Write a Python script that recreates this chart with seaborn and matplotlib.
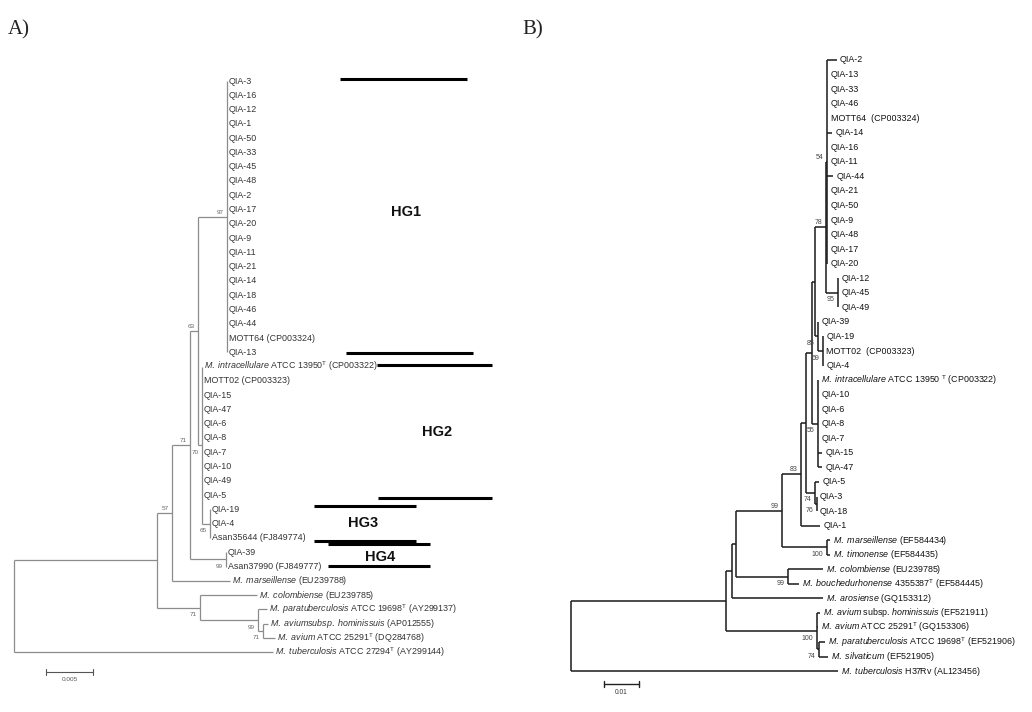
import matplotlib
matplotlib.use("Agg")
import matplotlib.pyplot as plt
import seaborn as sns
import pandas as pd

# ---------------- DATA ----------------
# Panel A tree (branch lengths = substitutions/site); internal labels = bootstrap (^ above, _ below)
A_NEWICK = (
    "((((((QIA-3:0,QIA-16:0,QIA-12:0,QIA-1:0,QIA-50:0,QIA-33:0,QIA-45:0,QIA-48:0,QIA-2:0,"
    "QIA-17:0,QIA-20:0,QIA-9:0,QIA-11:0,QIA-21:0,QIA-14:0,QIA-18:0,QIA-46:0,QIA-44:0,"
    "MOTT64:0,QIA-13:0)97^:0.00309,"
    "(Mint:0,MOTT02:0,QIA-15:0,QIA-47:0,QIA-6:0,QIA-8:0,QIA-7:0,QIA-10:0,QIA-49:0,QIA-5:0,"
    "(QIA-19:0,QIA-4:0,Asan35644:0)65_:0.00085)70_:0.00043)63^:0.00085,"
    "(QIA-39:0,Asan37990:0)99_:0.00383)71^:0.00191,"
    "Mmar:0.00617)57^:0.0016,"
    "(Mcol:0.00606,(Mpara:0.00096,(Mhom:0.00053,Mav:0.00128)71_:0.00053)99_:0.00617)71_:0.00457)"
    ":0.01521,Mtb:0.02755);"
)
A_LABELS = {
    "MOTT64": "MOTT64 (CP003324)",
    "Mint": r"$\mathit{M.\ intracellulare}$ ATCC 13950$^{\mathrm{T}}$ (CP003322)",
    "MOTT02": "MOTT02 (CP003323)",
    "Asan35644": "Asan35644 (FJ849774)",
    "Asan37990": "Asan37990 (FJ849777)",
    "Mmar": r"$\mathit{M.\ marseillense}$ (EU239788)",
    "Mcol": r"$\mathit{M.\ colombiense}$ (EU239785)",
    "Mpara": r"$\mathit{M.\ paratuberculosis}$ ATCC 19698$^{\mathrm{T}}$ (AY299137)",
    "Mhom": r"$\mathit{M.\ avium subsp.\ hominissuis}$ (AP012555)",
    "Mav": r"$\mathit{M.\ avium}$ ATCC 25291$^{\mathrm{T}}$ (DQ284768)",
    "Mtb": r"$\mathit{M.\ tuberculosis}$ ATCC 27294$^{\mathrm{T}}$ (AY299144)",
}
# haplogroup marker bars in panel A (distance units, row units)
A_BAR_X0 = [0.03468, 0.03532, 0.03862, 0.03872, 0.03191, 0.03191, 0.03340, 0.03340]
A_BAR_X1 = [0.04819, 0.04883, 0.05085, 0.05085, 0.04277, 0.04277, 0.04426, 0.04426]
A_BAR_ROW = [-0.14, 19.05, 19.89, 29.20, 29.73, 32.18, 32.39, 33.96]
A_HG_NAMES = ["HG1", "HG2", "HG3", "HG4"]
A_HG_X = [0.04170, 0.04497, 0.03718, 0.03894]
A_HG_ROW = [9.17, 24.58, 30.95, 33.33]
A_SCALE = 0.005

# Panel B tree
B_NEWICK = (
    "(((((((((((QIA-2:0.00269,QIA-13:0,QIA-33:0,QIA-46:0,MOTT64:0,QIA-14:0.00134,QIA-16:0,"
    "QIA-11:0,QIA-44:0.00163,QIA-21:0,QIA-50:0,QIA-9:0,QIA-48:0,QIA-17:0,QIA-20:0)54^:0.00046,"
    "(QIA-12:0,QIA-45:0,QIA-49:0)95_:0.0036)78^:0.00306,"
    "(QIA-39:0,(QIA-19:0,MOTT02:0,QIA-4:0)69_:0.00134)85_:0.00094):0.00094,"
    "(Mint:0,QIA-10:0,QIA-6:0,QIA-8:0,QIA-7:0,QIA-15:0.00114,QIA-47:0.00114)55_:0.0018):0.00163,"
    "(QIA-5:0.00114,(QIA-3:0,QIA-18:0)76_:0.00049)74_:0.00257):0.00143,"
    "QIA-1:0.00543)83^:0.00551,"
    "(Mmar:0.00094,Mtim:0.00094)100_:0.01286)99^:0.01314,"
    "(Mcol:0.01,Mbou:0.00314)99_:0.01494):0.00106,"
    "Maro:0.026):0.00171,"
    "(Mhom:0.00086,Mav:0.0003,(Mpara:0.00171,Msil:0.00257)74_:0.00057)100_:0.026):0.04429,"
    "Mtb:0.07629);"
)
B_LABELS = {
    "MOTT64": "MOTT64  (CP003324)",
    "MOTT02": "MOTT02  (CP003323)",
    "Mint": r"$\mathit{M.\ intracellulare}$ ATCC 13950 $^{\mathrm{T}}$ (CP003322)",
    "Mmar": r"$\mathit{M.\ marseillense}$ (EF584434)",
    "Mtim": r"$\mathit{M.\ timonense}$ (EF584435)",
    "Mcol": r"$\mathit{M.\ colombiense}$ (EU239785)",
    "Mbou": r"$\mathit{M.\ bouchedurhonense}$ 4355387$^{\mathrm{T}}$ (EF584445)",
    "Maro": r"$\mathit{M.\ arosiense}$ (GQ153312)",
    "Mhom": r"$\mathit{M.\ avium}$ subsp. $\mathit{hominissuis}$ (EF521911)",
    "Mav": r"$\mathit{M.\ avium}$ ATCC 25291$^{\mathrm{T}}$ (GQ153306)",
    "Mpara": r"$\mathit{M.\ paratuberculosis}$ ATCC 19698$^{\mathrm{T}}$ (EF521906)",
    "Msil": r"$\mathit{M.\ silvaticum}$ (EF521905)",
    "Mtb": r"$\mathit{M.\ tuberculosis}$ H37Rv (AL123456)",
}
B_SCALE = 0.01

# ---------------- LAYOUT ----------------
W_PX, H_PX = 1032, 712
A_ROOT_PX, A_PPU, A_ROW0, A_ROWH = 14, 9400.0, 81.0, 14.28
B_ROOT_PX, B_PPU, B_ROW0, B_ROWH = 571, 3500.0, 60.0, 14.55
A_SCALE_X, A_SCALE_ROW = 0.0034, 41.39
B_SCALE_X, B_SCALE_ROW = 0.00943, 42.89


def parse_newick(s):
    s = s.replace(" ", "").rstrip(";")
    pos = 0

    def parse():
        nonlocal pos
        node = {"children": [], "name": "", "len": 0.0}
        if s[pos] == "(":
            pos += 1
            while True:
                node["children"].append(parse())
                if s[pos] == ",":
                    pos += 1
                    continue
                pos += 1
                break
        start = pos
        while pos < len(s) and s[pos] not in ",():":
            pos += 1
        node["name"] = s[start:pos]
        if pos < len(s) and s[pos] == ":":
            pos += 1
            start = pos
            while pos < len(s) and s[pos] not in ",()":
                pos += 1
            node["len"] = float(s[start:pos])
        return node

    return parse()


def layout(root):
    counter = [0]

    def rec(node, x):
        node["x"] = x
        if node["children"]:
            for c in node["children"]:
                rec(c, x + c["len"])
            node["y"] = (node["children"][0]["y"] + node["children"][-1]["y"]) / 2
        else:
            node["y"] = counter[0]
            counter[0] += 1

    rec(root, 0.0)
    return root


def walk(node, parent=None):
    yield node, parent
    for c in node["children"]:
        yield from walk(c, node)


def segments(root):
    rows = []
    k = 0
    for node, parent in walk(root):
        if parent is not None and node["x"] > parent["x"]:
            rows += [(parent["x"], node["y"], k), (node["x"], node["y"], k)]
            k += 1
        if node["children"]:
            rows += [(node["x"], node["children"][0]["y"], k),
                     (node["x"], node["children"][-1]["y"], k)]
            k += 1
    return pd.DataFrame(rows, columns=["x", "y", "seg"])


sns.set_theme(style="white")
plt.rcParams["font.family"] = ["Liberation Sans", "DejaVu Sans"]
plt.rcParams["mathtext.fontset"] = "custom"
plt.rcParams["mathtext.rm"] = "Liberation Sans"
plt.rcParams["mathtext.it"] = "Liberation Sans:italic"
plt.rcParams["mathtext.bf"] = "Liberation Sans:bold"

fig = plt.figure(figsize=(W_PX / 100, H_PX / 100), dpi=100)
fig.patch.set_facecolor("white")
PT = 72 / 100  # points per pixel


def make_axes(root_px, ppu, row0, rowh):
    ax = fig.add_axes([0, 0, 1, 1])
    ax.set_facecolor("none")
    ax.set_xlim(-root_px / ppu, (W_PX - root_px) / ppu)
    ax.set_ylim((H_PX - row0) / rowh, -row0 / rowh)
    ax.axis("off")
    return ax


def draw_tree(ax, newick, labels, color, tcolor, lw, fs, sfs, scolor, gap_px):
    root = layout(parse_newick(newick))
    df = segments(root)
    sns.lineplot(data=df, x="x", y="y", units="seg", estimator=None, sort=False,
                 color=color, lw=lw, ax=ax, legend=False, solid_capstyle="butt")
    for node, parent in walk(root):
        if not node["children"]:
            txt = labels.get(node["name"], node["name"])
            ax.annotate(txt, (node["x"], node["y"]), xytext=(gap_px * PT, 0),
                        textcoords="offset points", ha="left", va="center",
                        fontsize=fs, color=tcolor)
        elif node["name"]:
            lab = node["name"]
            dy = -4.5 if lab.endswith("^") else 7.0
            ax.annotate(lab.rstrip("^_"), (node["x"], node["y"]),
                        xytext=(-3.5 * PT, -dy * PT), textcoords="offset points",
                        ha="right", va="center", fontsize=sfs, color=scolor)
    return root


# ---- Panel A ----
axA = make_axes(A_ROOT_PX, A_PPU, A_ROW0, A_ROWH)
draw_tree(axA, A_NEWICK, A_LABELS, "#8c8c8c", "#333333", 0.9, 6.4, 4.6, "#666666", 2.0)
for x0, x1, r in zip(A_BAR_X0, A_BAR_X1, A_BAR_ROW):
    axA.plot([x0, x1], [r, r], color="black", lw=2.2, solid_capstyle="butt")
for name, x, r in zip(A_HG_NAMES, A_HG_X, A_HG_ROW):
    axA.text(x, r, name, ha="center", va="center", fontsize=10.5, fontweight="bold",
             color="#111111")
axA.plot([A_SCALE_X, A_SCALE_X + A_SCALE], [A_SCALE_ROW] * 2, color="#555555", lw=0.8)
for xx in (A_SCALE_X, A_SCALE_X + A_SCALE):
    axA.plot([xx, xx], [A_SCALE_ROW - 0.18, A_SCALE_ROW + 0.18], color="#555555", lw=0.8)
axA.text(A_SCALE_X + A_SCALE / 2, A_SCALE_ROW + 0.55, f"{A_SCALE:g}", ha="center",
         va="center", fontsize=4.6, color="#555555")

# ---- Panel B ----
axB = make_axes(B_ROOT_PX, B_PPU, B_ROW0, B_ROWH)
draw_tree(axB, B_NEWICK, B_LABELS, "#1a1a1a", "#111111", 1.1, 6.4, 5.0, "#444444", 3.3)
axB.plot([B_SCALE_X, B_SCALE_X + B_SCALE], [B_SCALE_ROW] * 2, color="#222222", lw=1.0)
for xx in (B_SCALE_X, B_SCALE_X + B_SCALE):
    axB.plot([xx, xx], [B_SCALE_ROW - 0.2, B_SCALE_ROW + 0.2], color="#222222", lw=1.0)
axB.text(B_SCALE_X + B_SCALE / 2, B_SCALE_ROW + 0.6, f"{B_SCALE:g}", ha="center",
         va="center", fontsize=4.8, color="#333333")

# panel letters
fig.text(8 / W_PX, 1 - 30 / H_PX, "A)", fontsize=15, family="Liberation Serif",
         va="center", ha="left", color="#222222")
fig.text(522 / W_PX, 1 - 30 / H_PX, "B)", fontsize=15, family="Liberation Serif",
         va="center", ha="left", color="#222222")

fig.savefig("out.png", dpi=100, facecolor="white")
